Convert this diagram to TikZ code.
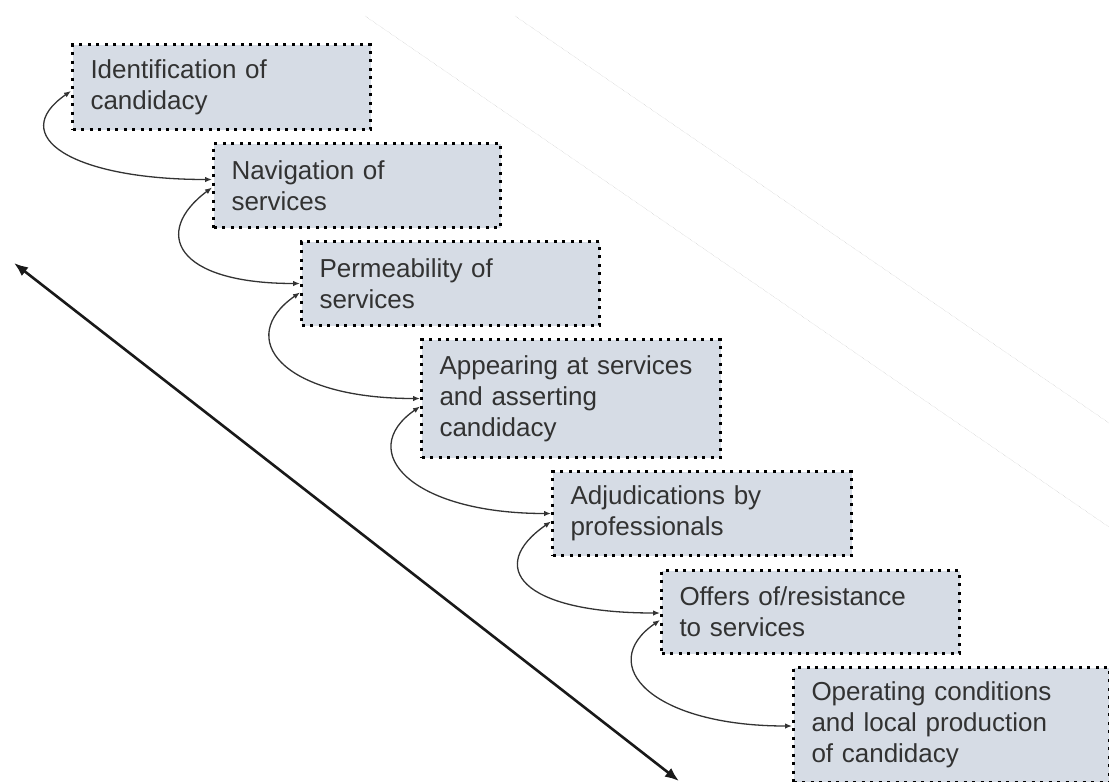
\documentclass[tikz,border=0pt]{standalone}
\usepackage{fontspec}
\setmainfont{Liberation Sans}
\usetikzlibrary{arrows.meta}
\definecolor{stagefill}{RGB}{214,220,229}
\definecolor{stagetext}{RGB}{50,50,50}
\definecolor{faintgrey}{RGB}{185,185,185}
\tikzset{
	stage/.style={draw=black, line width=3pt, dash pattern=on 3pt off 5.5pt, fill=stagefill, text=stagetext, anchor=north west, align=left, inner xsep=18pt, inner ysep=0pt, font=\fontsize{26}{31}\selectfont},
	link/.style={{Latex[length=7pt, width=5.5pt]}-{Latex[length=7pt, width=5.5pt]}, line width=1.3pt, draw=black!80},
	span/.style={{Latex[length=14pt, width=11pt]}-{Latex[length=14pt, width=11pt]}, line width=2.6pt, draw=black!90},
	faint/.style={line width=0.4pt, draw=faintgrey, densely dotted}
}

\begin{document}
\begin{tikzpicture}[x=1pt, y=1pt]
		%%%%% START %%%%%
		\useasboundingbox (0, 0) rectangle (1109, -782);
		
		\draw[faint] (365, -16) -- (1109, -527);
		\draw[faint] (515, -16) -- (1109, -423);
		
		\node[stage, text width=262pt, minimum height=85pt] (ident) at (71, -43) {Identification of\\candidacy};
		\node[stage, text width=251pt, minimum height=84pt] (navig) at (212, -142) {Navigation of\\services};
		\node[stage, text width=262pt, minimum height=84pt] (perme) at (300, -240) {Permeability of\\services};
		\node[stage, text width=263pt, minimum height=118pt] (appear) at (420, -338) {Appearing at services\\and asserting\\candidacy};
		\node[stage, text width=263pt, minimum height=84pt] (adjud) at (551, -470) {Adjudications by\\professionals};
		\node[stage, text width=262pt, minimum height=83pt] (offers) at (660, -569) {Offers of/resistance\\to services};
		\node[stage, text width=280pt, minimum height=115pt] (operat) at (792, -666) {Operating conditions\\and local production\\of candidacy};
		
		\draw[link] ([yshift=-4pt]ident.west) .. controls +(-65, -45) and +(-140, 0) .. ([yshift=6pt]navig.west);
		\draw[link] ([yshift=-2pt]navig.west) .. controls +(-60, -45) and +(-125, 0) .. ([yshift=0pt]perme.west);
		\draw[link] ([yshift=-9pt]perme.west) .. controls +(-65, -45) and +(-140, 0) .. ([yshift=0pt]appear.west);
		\draw[link] ([yshift=-8pt]appear.west) .. controls +(-65, -45) and +(-140, 0) .. ([yshift=0pt]adjud.west);
		\draw[link] ([yshift=-8pt]adjud.west) .. controls +(-65, -45) and +(-140, 0) .. ([yshift=-1pt]offers.west);
		\draw[link] ([yshift=-8pt]offers.west) .. controls +(-65, -45) and +(-140, 0) .. ([yshift=-1pt]operat.west);
		
		\coordinate (early) at (14, -263);
		\coordinate (late) at (679, -781);
		\draw[span] (early) -- (late);
		
		%%%%% END %%%%%
	\end{tikzpicture}
\end{document}
